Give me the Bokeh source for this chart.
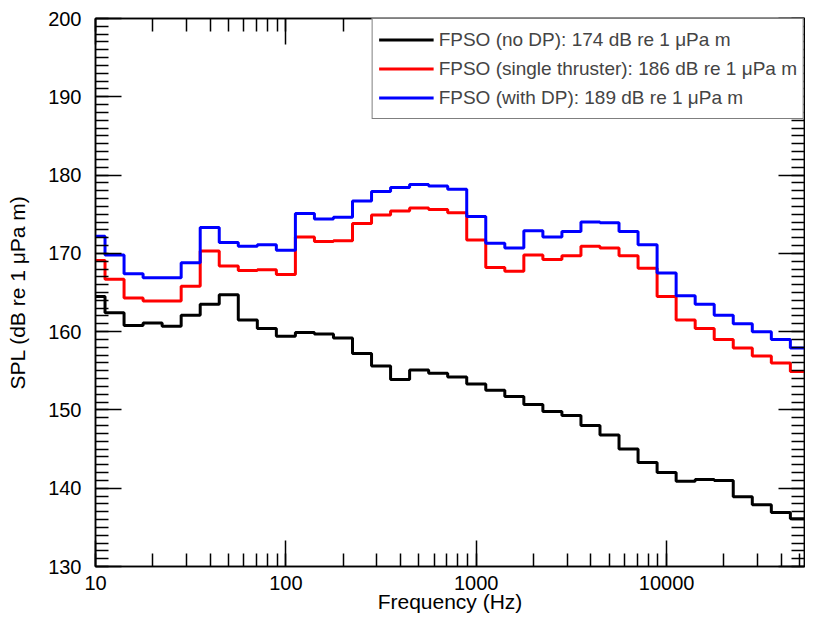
import math
from bokeh.plotting import figure
from bokeh.models import (LogAxis, LinearAxis, LogTicker, Range1d, NumeralTickFormatter,
                          CustomJSTickFormatter, Legend, LegendItem, SingleIntervalTicker)
from bokeh.embed import file_html
from bokeh.resources import INLINE

# 1/3-octave band centre frequencies (Hz)
freqs = [10, 12.5, 16, 20, 25, 31.5, 40, 50, 63, 80, 100, 125, 160, 200, 250, 315, 400,
         500, 630, 800, 1000, 1250, 1600, 2000, 2500, 3150, 4000, 5000, 6300, 8000,
         10000, 12500, 16000, 20000, 25000, 31500, 40000, 50000, 63000]

spl_no_dp = [164.5, 162.4, 160.8, 161.1, 160.7, 162.1, 163.5, 164.7, 161.5, 160.4,
             159.4, 159.9, 159.7, 159.2, 157.2, 155.6, 153.9, 155.1, 154.7, 154.2,
             153.3, 152.5, 151.7, 150.7, 149.8, 149.3, 148.0, 146.8, 145.0, 143.3,
             142.0, 140.9, 141.1, 141.0, 138.9, 137.9, 136.9, 136.1, 135.0]

spl_single = [169.1, 166.7, 164.3, 163.9, 163.9, 165.8, 170.3, 168.4, 167.8, 167.9,
              167.3, 172.1, 171.5, 171.6, 173.8, 174.9, 175.4, 175.8, 175.6, 175.2,
              171.7, 168.2, 167.7, 169.8, 169.2, 169.7, 170.9, 170.7, 169.7, 168.1,
              164.5, 161.5, 160.4, 159.0, 157.9, 156.9, 156.0, 154.9, 154.2]

spl_with_dp = [172.2, 169.8, 167.4, 166.9, 166.9, 168.8, 173.3, 171.4, 170.9, 171.1,
               170.4, 175.1, 174.4, 174.6, 176.7, 177.9, 178.4, 178.8, 178.6, 178.2,
               174.7, 171.3, 170.7, 172.9, 172.1, 172.8, 174.0, 173.9, 172.8, 171.1,
               167.5, 164.6, 163.5, 162.1, 161.0, 160.0, 159.0, 157.9, 156.9]

labels = ["FPSO (no DP): 174 dB re 1 \u03bcPa m",
          "FPSO (single thruster): 186 dB re 1 \u03bcPa m",
          "FPSO (with DP): 189 dB re 1 \u03bcPa m"]
colors = ["black", "#ff0000", "#0000ff"]

FONT = "Liberation Sans"

p = figure(width=805, height=616, x_axis_type="log", output_backend="svg",
           toolbar_location=None, x_range=Range1d(10, 53000), y_range=Range1d(130, 200),
           min_border_left=95, min_border_top=18, min_border_bottom=50, min_border_right=1)
p.xgrid.visible = False
p.ygrid.visible = False
p.outline_line_color = "black"
p.outline_line_width = 1.5
p.background_fill_color = "white"
p.border_fill_color = "white"

# band edges from band centres (exact base-10 third-octave)
idx = [round(10 * math.log10(f)) for f in freqs]
edges = [10 ** ((i - 0.5) / 10) for i in idx] + [10 ** ((idx[-1] + 0.5) / 10)]

renderers = []
for vals, c in zip([spl_no_dp, spl_single, spl_with_dp], colors):
    r = p.step(edges, vals + [vals[-1]], mode="after", line_color=c, line_width=3)
    renderers.append(r)

legend = Legend(items=[LegendItem(label=l, renderers=[r]) for l, r in zip(labels, renderers)],
                location="top_right", margin=0, padding=6, spacing=0,
                glyph_width=55, glyph_height=29, label_height=29, label_standoff=5,
                label_text_font=FONT, label_text_font_size="19px",
                border_line_color="black", border_line_width=1.5,
                background_fill_alpha=1.0)
p.add_layout(legend)

# bottom axis
xa = p.xaxis[0]
xa.ticker = LogTicker(mantissas=[1], num_minor_ticks=10)
xa.formatter = NumeralTickFormatter(format="0")
xa.axis_label = "Frequency (Hz)"
# left axis
ya = p.yaxis[0]
ya.ticker = SingleIntervalTicker(interval=10, num_minor_ticks=10)
ya.axis_label = "SPL (dB re 1 \u03bcPa m)"

for ax in (xa, ya):
    ax.major_tick_in = 26
    ax.major_tick_out = 0
    ax.minor_tick_in = 13
    ax.minor_tick_out = 0
    ax.axis_line_color = "black"
    ax.axis_line_width = 1.5
    ax.major_tick_line_color = "black"
    ax.major_tick_line_width = 1.5
    ax.minor_tick_line_color = "black"
    ax.minor_tick_line_width = 1.5
    ax.major_label_text_font = FONT
    ax.major_label_text_font_size = "20px"
    ax.major_label_text_color = "black"
    ax.axis_label_text_font = FONT
    ax.axis_label_text_font_size = "21px"
    ax.axis_label_text_font_style = "normal"
    ax.axis_label_text_color = "black"

xa.major_label_standoff = 9
xa.axis_label_standoff = -3
ya.major_label_standoff = 14
ya.axis_label_standoff = 16

blank = CustomJSTickFormatter(code="return ''")
top = LogAxis(ticker=LogTicker(mantissas=[1], num_minor_ticks=10), formatter=blank)
right = LinearAxis(ticker=SingleIntervalTicker(interval=10, num_minor_ticks=10), formatter=blank)
for ax in (top, right):
    ax.major_tick_in = 26
    ax.major_tick_out = 0
    ax.minor_tick_in = 13
    ax.minor_tick_out = 0
    ax.major_label_standoff = 0
    ax.axis_line_color = "black"
    ax.axis_line_width = 1.5
    ax.major_tick_line_color = "black"
    ax.major_tick_line_width = 1.5
    ax.minor_tick_line_color = "black"
    ax.minor_tick_line_width = 1.5
p.add_layout(top, "above")
p.add_layout(right, "right")

open("out.html", "w").write(file_html(p, INLINE))
